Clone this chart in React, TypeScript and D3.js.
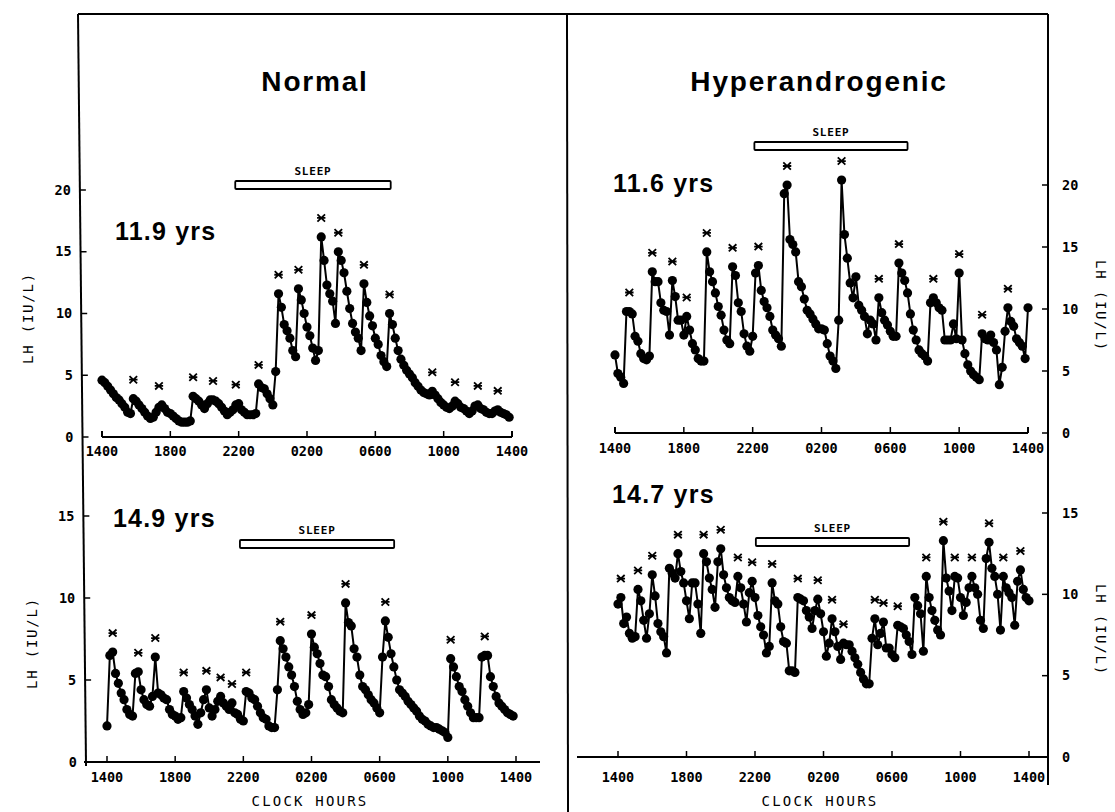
import React from "react";
import * as d3 from "d3";

// ---- data (LH, IU/L, 10-min samples from 1400 to 1400) ----
const tickLabels = ["1400", "1800", "2200", "0200", "0600", "1000", "1400"];
const tickHours = [0, 4, 8, 12, 16, 20, 24];

const normal119 = [4.6,4.4,4.1,3.8,3.5,3.2,3.0,2.7,2.4,2.0,
1.9,3.1,2.9,2.6,2.3,2.0,1.7,1.5,1.6,2.0,
2.4,2.6,2.3,2.0,1.9,1.7,1.5,1.3,1.2,1.2,
1.2,1.3,3.3,3.1,2.9,2.6,2.3,2.7,3.0,3.0,
2.9,2.7,2.4,2.1,1.8,2.0,2.2,2.6,2.7,2.2,
2.0,1.8,1.8,1.8,1.9,4.3,4.0,3.9,3.5,3.1,
2.6,5.3,11.6,10.5,9.1,8.6,8.0,7.0,6.5,12.0,
11.1,10.0,8.9,8.2,7.2,6.2,7.0,16.2,14.3,12.3,
11.6,11.0,9.2,15.0,14.3,13.3,11.8,10.4,9.2,8.5,
8.0,7.0,12.4,10.9,9.8,9.0,8.0,7.5,6.6,6.1,
5.7,10.0,9.1,8.0,7.0,6.3,5.8,5.4,5.1,4.8,
4.4,4.1,3.8,3.6,3.5,3.4,3.7,3.4,3.1,2.8,
2.6,2.4,2.3,2.5,2.9,2.7,2.4,2.3,2.1,1.9,
2.1,2.5,2.6,2.3,2.2,2.0,1.9,1.9,2.1,2.2,
2.0,1.9,1.8,1.6];
const normal119Pulses = [11,20,32,39,47,55,62,69,77,83,92,101,116,124,132,139];

const hyper116 = [6.3,4.8,4.5,4.0,9.8,9.8,9.6,7.8,7.4,6.4,
6.0,5.9,6.2,13.0,12.2,12.2,10.5,9.9,9.8,7.9,
12.3,11.0,9.1,9.1,7.9,9.4,8.3,7.2,6.7,6.0,
5.8,5.8,14.6,13.0,12.2,11.3,10.2,9.5,8.3,7.5,
7.2,13.4,12.7,10.5,9.8,8.0,7.0,6.6,7.8,12.9,
13.5,11.5,10.6,10.1,9.4,8.3,7.9,7.6,7.0,19.3,
20.0,15.6,15.2,14.6,12.2,11.8,10.8,9.9,9.6,9.2,
8.8,8.4,8.4,8.3,7.2,6.2,5.8,5.2,9.1,20.4,
16.0,14.1,12.1,10.9,12.6,10.3,9.9,9.4,8.0,9.1,
8.8,7.5,10.9,9.7,9.1,8.7,8.2,7.8,7.8,13.7,
12.9,12.3,11.3,9.6,8.3,7.5,6.7,6.4,6.2,5.8,
10.5,10.9,10.5,10.1,9.9,7.5,7.5,7.5,8.8,7.6,
12.9,7.5,6.4,5.5,5.0,4.7,4.5,4.3,8.0,7.6,
7.5,7.9,7.3,6.7,3.9,5.3,8.2,10.1,9.0,8.6,
7.6,7.3,7.0,6.0,10.1];
const hyper116Pulses = [5,13,20,25,32,41,50,60,79,92,99,111,120,128,137];

const normal149 = [2.2,6.5,6.7,5.4,4.8,4.2,3.8,3.2,2.9,2.8,
5.4,5.5,4.4,3.8,3.5,3.4,4.0,6.4,4.2,4.1,
3.9,3.8,3.2,2.9,2.8,2.6,2.7,4.3,3.9,3.5,
3.2,2.8,2.3,3.0,3.8,4.4,3.3,2.8,3.2,3.7,
4.0,3.6,3.4,3.2,3.6,3.0,2.9,2.6,2.5,4.3,
4.2,3.9,3.8,3.4,3.0,2.7,2.6,2.2,2.1,2.1,
4.4,7.4,6.9,6.4,5.8,5.3,4.6,3.7,3.2,2.9,
3.0,3.5,7.8,7.0,6.6,6.0,5.3,5.2,4.6,3.8,
3.5,3.3,3.1,3.0,9.7,8.5,8.3,6.9,6.4,5.3,
4.6,4.4,4.1,3.8,3.6,3.3,3.0,6.4,8.6,7.6,
6.6,5.8,5.0,4.4,4.2,4.0,3.7,3.5,3.3,3.1,
2.8,2.6,2.5,2.3,2.2,2.1,2.1,2.0,1.9,1.8,
1.5,6.3,5.8,5.2,4.6,4.3,3.8,3.4,3.0,2.7,
2.7,2.7,6.4,6.5,6.5,5.2,4.6,4.0,3.6,3.4,
3.2,3.0,2.9,2.8];
const normal149Pulses = [2,11,17,27,35,40,44,49,61,72,84,98,121,133];

const hyper147 = [9.4,9.8,8.2,8.6,7.6,7.3,7.4,10.3,9.6,8.4,
7.3,8.8,11.2,9.9,8.2,7.7,7.4,6.4,11.6,11.3,
11.0,12.5,11.4,10.7,9.6,8.5,10.7,10.7,9.4,7.6,
12.5,12.0,11.0,10.3,9.2,12.0,12.8,11.2,10.4,9.8,
9.6,9.5,11.1,10.4,9.4,8.3,10.1,10.8,9.8,8.7,
8.0,7.5,6.4,6.8,10.7,9.6,9.4,8.0,7.1,7.0,
5.3,5.3,5.2,9.8,9.7,9.6,9.0,8.6,7.9,9.0,
9.7,8.8,7.7,6.2,7.0,8.5,7.7,6.8,6.0,7.0,
6.9,6.9,6.5,6.1,5.7,5.2,4.8,4.5,4.5,7.3,
8.5,6.9,7.6,8.3,6.7,6.7,6.3,6.1,8.1,8.0,
7.9,7.5,7.1,6.3,9.8,9.3,8.8,6.5,11.1,9.8,
9.0,8.4,7.8,7.5,13.3,11.0,10.2,9.0,11.1,11.0,
9.8,8.7,9.5,10.4,11.1,10.4,10.0,8.4,7.9,12.2,
13.2,11.6,11.1,10.0,7.8,11.1,10.4,10.1,9.8,8.1,
10.8,11.5,10.3,9.8,9.6];
const hyper147Pulses = [1,7,12,21,30,36,42,47,54,63,70,75,79,90,93,98,108,114,118,124,130,135,141];

const sleepNormal119 = [7.8, 16.9];
const sleepHyper116 = [8.1, 17.0];
const sleepNormal149 = [7.8, 16.85];
const sleepHyper147 = [8.05, 17.0];

const monoFont = "'DejaVu Sans Mono', 'Liberation Mono', monospace";
const sansFont = "'Liberation Sans', Arial, sans-serif";

type PanelProps = {
  data: number[];
  pulses: number[];
  sleep: number[];
  age: string;
  x0: number; x1: number;
  yBase: number; yTop: number; yMax: number;
  axisFrom: number; axisTo: number; endTicks: boolean;
  labelY: number;
  side: "left" | "right";
  ageX: number; ageY: number;
  sleepY: number;
};

const frameLeftX = (y: number) => 78 + (y - 14) * (8 / 750);
const frameRightX = 1048;

function Panel(p: PanelProps) {
  const x = d3.scaleLinear().domain([0, 24]).range([p.x0, p.x1]);
  const y = d3.scaleLinear().domain([0, p.yMax]).range([p.yBase, p.yTop]);
  const pts = p.data.map((v, i) => [x(i / 6), y(v)] as [number, number]);
  const line = d3.line()(pts) || "";
  const yTicks = d3.range(0, p.yMax + 0.001, 5);
  const starPath = "M-3.8,-3.6L3.8,3.6M-3.8,3.6L3.8,-3.6M-4.2,0H4.2";
  const sx0 = x(p.sleep[0]);
  const sx1 = x(p.sleep[1]);
  return (
    <g>
      {/* x axis */}
      <line x1={p.axisFrom} x2={p.axisTo} y1={p.yBase} y2={p.yBase} stroke="#000" strokeWidth={2} />
      {p.endTicks && (
        <>
          <line x1={p.x0} x2={p.x0} y1={p.yBase} y2={p.yBase - 6} stroke="#000" strokeWidth={2} />
          <line x1={p.x1} x2={p.x1} y1={p.yBase} y2={p.yBase - 6} stroke="#000" strokeWidth={2} />
        </>
      )}
      {tickHours.map((h, k) => (
        <g key={k}>
          <line x1={x(h)} x2={x(h)} y1={p.yBase} y2={p.yBase - 6} stroke="#000" strokeWidth={1.5} />
          <text x={x(h)} y={p.labelY} textAnchor="middle" fontFamily={monoFont} fontWeight="bold" fontSize={13.5}>
            {tickLabels[k]}
          </text>
        </g>
      ))}
      {/* y axis ticks */}
      {yTicks.map((t) => {
        const yy = y(t);
        if (p.side === "left") {
          const fx = frameLeftX(yy);
          return (
            <g key={t}>
              <line x1={fx} x2={fx + 6} y1={yy} y2={yy} stroke="#000" strokeWidth={1.5} />
              <text x={fx - 9} y={yy} dy="0.35em" textAnchor="end" fontFamily={monoFont} fontWeight="bold" fontSize={13.5}>{t}</text>
            </g>
          );
        }
        return (
          <g key={t}>
            <line x1={frameRightX - 6} x2={frameRightX} y1={yy} y2={yy} stroke="#000" strokeWidth={1.5} />
            <text x={frameRightX + 14} y={yy} dy="0.35em" textAnchor="start" fontFamily={monoFont} fontWeight="bold" fontSize={13.5}>{t}</text>
          </g>
        );
      })}
      {/* sleep bar */}
      <rect x={sx0} y={p.sleepY} width={sx1 - sx0} height={8} fill="#fff" stroke="#000" strokeWidth={1.8} rx={1} />
      <text x={(sx0 + sx1) / 2} y={p.sleepY - 6} textAnchor="middle" fontFamily={monoFont} fontWeight="bold" fontSize={11} letterSpacing={0.8}>SLEEP</text>
      {/* age */}
      <text x={p.ageX} y={p.ageY} fontFamily={sansFont} fontWeight="bold" fontSize={25} letterSpacing={1.2}>{p.age}</text>
      {/* series */}
      <path d={line} fill="none" stroke="#000" strokeWidth={2} />
      {pts.map((d, i) => (
        <circle key={i} cx={d[0]} cy={d[1]} r={4.6} fill="#000" />
      ))}
      {p.pulses.map((s, k) => {
        const lo = Math.max(0, s - 1);
        const hi = Math.min(p.data.length - 1, s + 1);
        const vmax = Math.max(...p.data.slice(lo, hi + 1));
        return (
          <path key={k} d={starPath} transform={`translate(${x(s / 6)},${y(vmax) - 19})`} stroke="#000" strokeWidth={1.8} fill="none" />
        );
      })}
    </g>
  );
}

export default function App() {
  return (
    <svg width={1115} height={812} style={{ position: "absolute", left: 0, top: 0, background: "#fff" }}>
      <rect x={0} y={0} width={1115} height={812} fill="#fff" />
      {/* frame */}
      <line x1={frameLeftX(14)} y1={14} x2={frameLeftX(766)} y2={766} stroke="#000" strokeWidth={2} />
      <line x1={frameLeftX(14)} y1={14} x2={frameRightX} y2={14} stroke="#000" strokeWidth={2} />
      <line x1={567} y1={14} x2={568} y2={812} stroke="#000" strokeWidth={2} />
      <line x1={frameRightX} y1={14} x2={frameRightX} y2={785} stroke="#000" strokeWidth={2} />

      <text x={315} y={91} textAnchor="middle" fontFamily={sansFont} fontWeight="bold" fontSize={28} letterSpacing={1.8}>Normal</text>
      <text x={819} y={91} textAnchor="middle" fontFamily={sansFont} fontWeight="bold" fontSize={28} letterSpacing={1.8}>Hyperandrogenic</text>

      <Panel data={normal119} pulses={normal119Pulses} sleep={sleepNormal119} age="11.9 yrs"
        x0={102} x1={512} yBase={437} yTop={190} yMax={20} axisFrom={102} axisTo={512} endTicks={true}
        labelY={456} side="left" ageX={115} ageY={240} sleepY={181} />
      <Panel data={hyper116} pulses={hyper116Pulses} sleep={sleepHyper116} age="11.6 yrs"
        x0={615} x1={1028} yBase={433} yTop={185} yMax={20} axisFrom={615} axisTo={1028} endTicks={true}
        labelY={453} side="right" ageX={613} ageY={192} sleepY={142} />
      <Panel data={normal149} pulses={normal149Pulses} sleep={sleepNormal149} age="14.9 yrs"
        x0={107} x1={516} yBase={762} yTop={516} yMax={15} axisFrom={84} axisTo={540} endTicks={false}
        labelY={782} side="left" ageX={113} ageY={527} sleepY={540} />
      <Panel data={hyper147} pulses={hyper147Pulses} sleep={sleepHyper147} age="14.7 yrs"
        x0={618} x1={1029} yBase={757} yTop={513} yMax={15} axisFrom={577} axisTo={1048} endTicks={false}
        labelY={782} side="right" ageX={612} ageY={503} sleepY={538} />

      {/* axis titles */}
      <text transform="translate(28,318) rotate(-90)" textAnchor="middle" dy="0.35em" fontFamily={monoFont} fontSize={14} letterSpacing={1.8}>LH (IU/L)</text>
      <text transform="translate(32,643) rotate(-90)" textAnchor="middle" dy="0.35em" fontFamily={monoFont} fontSize={14} letterSpacing={1.8}>LH (IU/L)</text>
      <text transform="translate(1101,306) rotate(90)" textAnchor="middle" dy="0.35em" fontFamily={monoFont} fontSize={14} letterSpacing={1.8}>LH (IU/L)</text>
      <text transform="translate(1101,630) rotate(90)" textAnchor="middle" dy="0.35em" fontFamily={monoFont} fontSize={14} letterSpacing={1.8}>LH (IU/L)</text>
      <text x={310} y={806} textAnchor="middle" fontFamily={monoFont} fontSize={14} letterSpacing={2.2}>CLOCK HOURS</text>
      <text x={820} y={806} textAnchor="middle" fontFamily={monoFont} fontSize={14} letterSpacing={2.2}>CLOCK HOURS</text>
    </svg>
  );
}
